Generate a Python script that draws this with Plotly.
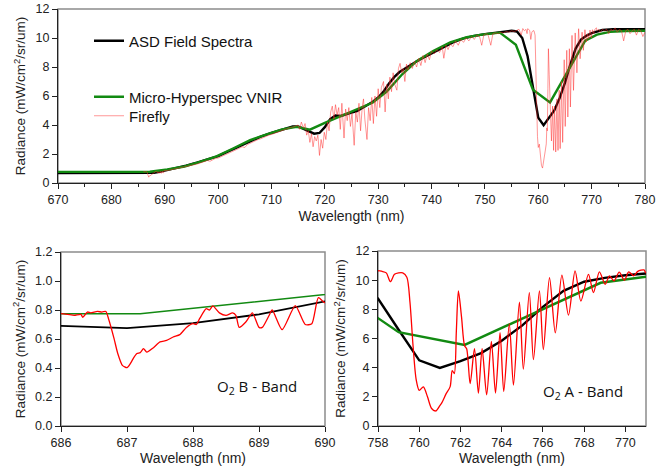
import plotly.graph_objects as go

# ---------------- data ----------------
asd_wl = [670, 686, 687, 688, 689, 690, 692, 694, 696, 698, 700, 702, 704, 706, 708,
          710, 712, 714, 715, 716, 717, 718, 719, 720, 721, 722, 723, 724, 725, 726,
          727, 728, 729, 730, 731, 732, 733, 734, 735, 736, 737, 738, 739, 740, 742,
          744, 746, 748, 750, 752, 753, 754, 755, 756, 757, 758, 759, 760, 761, 762,
          763, 764, 765, 766, 767, 768, 769, 770, 771, 772, 774, 776, 778, 780]
asd_rad = [0.68, 0.69, 0.675, 0.71, 0.77, 0.85, 1.0, 1.2, 1.4, 1.62, 1.85, 2.2, 2.55, 2.9, 3.2,
           3.45, 3.7, 3.9, 3.9, 3.75, 3.55, 3.4, 3.45, 3.85, 4.4, 4.65, 4.62, 4.75, 4.85, 4.95,
           5.15, 5.35, 5.6, 5.9, 6.3, 6.85, 7.3, 7.65, 7.9, 8.1, 8.35, 8.55, 8.75, 8.95, 9.35,
           9.7, 9.97, 10.15, 10.27, 10.35, 10.4, 10.45, 10.5, 10.45, 10.0, 8.74, 6.6, 4.5, 3.98, 4.45,
           5.0, 5.85, 6.9, 8.17, 9.27, 9.89, 10.16, 10.34, 10.46, 10.55, 10.6, 10.6, 10.6, 10.6]

mhs_wl = [670, 687.2, 690.5, 693.7, 696.6, 699.7, 702.8, 706.0, 709.1, 712.0, 714.7, 717.2,
          720.0, 723.0, 726.0, 729.0, 731.6, 734.5, 737.2, 740.3, 743.5, 746.6, 749.7, 752.8,
          755.8, 759.0, 762.2, 768.8, 771.0, 773.4, 776.5, 780]
mhs_rad = [0.77, 0.775, 0.93, 1.14, 1.46, 1.84, 2.38, 2.95, 3.36, 3.7, 3.88, 3.68,
           4.15, 4.62, 5.05, 5.55, 6.3, 7.5, 8.4, 9.1, 9.7, 10.05, 10.25, 10.37,
           9.53, 6.43, 5.56, 9.82, 10.23, 10.42, 10.48, 10.5]

firefly_wl = [686.0, 686.1, 686.2, 686.3, 686.33, 686.4, 686.45, 686.55, 686.62, 686.68,
              686.72, 686.8, 686.86, 686.93, 687.0, 687.05, 687.1, 687.15, 687.2, 687.25,
              687.3, 687.4, 687.5, 687.6, 687.7, 687.8, 687.9, 688.0, 688.05, 688.1,
              688.2, 688.25, 688.3, 688.4, 688.5, 688.6, 688.65, 688.7, 688.8, 688.9,
              689.0, 689.05, 689.15, 689.2, 689.35, 689.55, 689.7, 689.8, 689.9, 690.0,
              690.5, 691.0, 691.5, 692.0, 692.5, 693.0, 693.5, 694.0, 694.5, 695.0,
              695.5, 696.0, 696.5, 697.0, 697.5, 698.0, 698.5, 699.0, 699.5, 700.0,
              700.5, 701.0, 701.5, 702.0, 702.5, 703.0, 703.5, 704.0, 704.5, 705.0,
              705.5, 706.0, 706.5, 707.0, 707.5, 708.0, 708.5, 709.0, 709.5, 710.0,
              710.5, 711.0, 711.5, 712.0, 712.5, 713.0, 713.5, 714.0, 714.5, 715.0,
              715.3, 715.6, 716.0, 716.3, 716.6, 716.9, 717.2, 717.5, 717.8, 718.1,
              718.4, 718.7, 719.0, 719.3, 719.6, 719.9, 720.2, 720.5, 720.8, 721.1,
              721.4, 721.7, 722.0, 722.3, 722.6, 722.9, 723.2, 723.6, 723.9, 724.2,
              724.5, 724.8, 725.1, 725.5, 725.8, 726.1, 726.4, 726.7, 727.0, 727.25,
              727.5, 727.9, 728.2, 728.5, 728.8, 729.1, 729.4, 729.7, 730.0, 730.3,
              730.6, 731.0, 731.3, 731.6, 731.9, 732.2, 732.5, 732.8, 733.1, 733.5,
              733.8, 734.1, 734.4, 734.7, 735.0, 735.3, 735.6, 736.0, 736.4, 736.8,
              737.2, 737.6, 738.0, 738.4, 738.8, 739.2, 739.6, 740.0, 740.5, 741.0,
              741.5, 742.0, 742.3, 742.7, 743.1, 743.5, 744.0, 744.5, 745.0, 745.5,
              746.0, 746.5, 747.0, 747.5, 748.0, 748.5, 749.0, 749.4, 749.8, 750.2,
              750.6, 751.1, 751.5, 752.0, 752.5, 753.0, 753.5, 754.0, 754.5, 755.0,
              755.5, 756.0, 756.4, 756.8, 757.1, 757.4, 757.7, 757.9,
              758.0, 758.2, 758.4, 758.6, 758.8, 759.0, 759.2, 759.4, 759.55, 759.7,
              759.85, 760.0, 760.2, 760.4, 760.6, 760.8, 761.0, 761.1, 761.3, 761.5,
              761.6, 761.7, 761.8, 761.9, 762.05, 762.2, 762.3, 762.47, 762.68, 762.87,
              763.05, 763.27, 763.5, 763.7, 763.92, 764.1, 764.37, 764.57, 764.86, 765.05,
              765.34, 765.54, 765.83, 766.02, 766.32, 766.6, 766.92, 767.24, 767.56, 767.84,
              768.21, 768.45, 768.74, 769.02, 769.23, 769.45, 769.7, 769.95, 770.16, 770.4,
              770.6, 770.9, 771.0, 771.3, 771.6, 772.0, 772.4, 772.8, 773.2, 773.6,
              774.0, 774.4, 774.8, 775.2, 775.6, 776.0, 776.4, 776.8, 777.2, 777.6,
              778.0, 778.4, 778.8, 779.2, 779.6, 780.0]
firefly_rad = [0.775, 0.77, 0.763, 0.77, 0.75, 0.786, 0.78, 0.79, 0.786, 0.79,
               0.74, 0.61, 0.5, 0.418, 0.402, 0.43, 0.47, 0.5, 0.506, 0.533,
               0.51, 0.54, 0.58, 0.59, 0.614, 0.63, 0.68, 0.706, 0.70, 0.74,
               0.809, 0.80, 0.828, 0.78, 0.763, 0.78, 0.763, 0.68, 0.717, 0.78,
               0.68, 0.68, 0.76, 0.80, 0.664, 0.83, 0.70, 0.705, 0.885, 0.85,
               0.86, 0.9, 0.92, 0.95, 0.98, 1.05, 1.08, 1.12, 1.18, 1.2,
               1.26, 1.3, 1.36, 1.42, 1.5, 1.55, 1.5, 1.62, 1.7, 1.72,
               1.8, 1.88, 1.95, 2.05, 2.12, 2.2, 2.32, 2.4, 2.5, 2.45,
               2.65, 2.75, 2.82, 2.9, 3.0, 3.05, 3.15, 3.2, 3.3, 3.35,
               3.42, 3.5, 3.55, 3.62, 3.7, 3.75, 3.82, 3.85, 3.9, 4.0,
               3.7, 4.2, 3.8, 4.1, 3.3, 3.6, 2.8, 3.4, 2.5, 3.2,
               2.9, 3.3, 1.9, 3.0, 2.4, 3.5, 3.0, 4.2, 3.6, 4.9,
               5.3, 4.4, 5.4, 4.7, 5.2, 3.7, 5.5, 3.1, 5.1, 4.3,
               5.2, 3.9, 4.8, 2.6, 4.9, 4.2, 5.5, 3.6, 5.2, 5.8,
               4.4, 3.0, 5.2, 4.3, 5.9, 4.1, 6.0, 4.6, 6.5, 5.2,
               6.6, 7.0, 4.9, 6.8, 5.8, 7.3, 6.3, 7.6, 6.8, 6.4,
               7.9, 8.25, 7.6, 7.9, 7.0, 8.2, 7.8, 8.3, 7.9, 8.4,
               8.0, 8.6, 8.1, 8.8, 8.3, 8.9, 8.5, 9.1, 8.9, 9.2,
               9.0, 9.4, 8.6, 9.5, 9.2, 9.6, 9.4, 9.8, 9.5, 9.9,
               9.7, 10.0, 9.8, 10.1, 9.9, 10.2, 10.1, 9.5, 10.2, 10.3,
               10.2, 9.5, 10.3, 10.35, 10.3, 10.4, 10.35, 10.45, 10.4, 10.5,
               10.45, 10.55, 10.6, 10.2, 10.65, 10.5, 10.6, 10.3,
               10.64, 10.6, 10.5, 9.9, 10.4, 10.5, 10.5, 10.2, 8.5, 5.5,
               3.2, 2.45, 2.68, 2.0, 1.2, 1.03, 1.4, 1.6, 2.2, 2.7,
               3.8, 3.6, 6.5, 9.26, 7.5, 5.5, 5.3, 2.9, 5.3, 2.25,
               5.3, 2.14, 5.8, 2.25, 6.4, 2.37, 7.0, 2.8, 8.5, 3.9,
               9.15, 4.55, 9.26, 5.24, 10.18, 6.39, 10.35, 7.6, 10.64, 8.57,
               10.4, 9.15, 10.57, 9.72, 10.3, 9.95, 10.55, 10.0, 10.57, 10.3,
               10.6, 10.7, 10.5, 10.6, 10.4, 10.6, 10.5, 10.6, 10.3, 10.6,
               10.5, 10.7, 10.4, 10.6, 10.5, 9.8, 10.5, 10.6, 10.3, 10.5,
               10.6, 10.2, 10.6, 10.5, 10.1, 10.4]

series_names = ["ASD Field Spectra", "Micro-Hyperspec VNIR", "Firefly"]
y_title = "Radiance (mW/cm<sup>2</sup>/sr/um)"
x_title = "Wavelength (nm)"
band_labels = ["O<sub>2</sub> B - Band", "O<sub>2</sub> A - Band"]

BLACK = "#000000"
GREEN = "#128a12"
RED = "#ff0000"
FONT = "Liberation Sans, Arial, sans-serif"

fig = go.Figure()

# ---- top panel (each series has its own legend box so the spacing matches) ----
fig.add_trace(go.Scatter(x=asd_wl, y=asd_rad, mode="lines", name=series_names[0],
                         line=dict(color=BLACK, width=2.4), legend="legend",
                         xaxis="x", yaxis="y"))
fig.add_trace(go.Scatter(x=mhs_wl, y=mhs_rad, mode="lines", name=series_names[1],
                         line=dict(color=GREEN, width=2.4), legend="legend2",
                         xaxis="x", yaxis="y"))
fig.add_trace(go.Scatter(x=firefly_wl, y=firefly_rad, mode="lines", name=series_names[2],
                         line=dict(color="rgba(255,40,40,0.55)", width=0.9), legend="legend3",
                         xaxis="x", yaxis="y"))

# ---- bottom-left (O2 B band) ----
fig.add_trace(go.Scatter(x=asd_wl, y=asd_rad, mode="lines", showlegend=False,
                         line=dict(color=BLACK, width=1.8), xaxis="x2", yaxis="y2"))
fig.add_trace(go.Scatter(x=mhs_wl, y=mhs_rad, mode="lines", showlegend=False,
                         line=dict(color=GREEN, width=1.5), xaxis="x2", yaxis="y2"))
fig.add_trace(go.Scatter(x=firefly_wl, y=firefly_rad, mode="lines", showlegend=False,
                         line=dict(color=RED, width=1.3, shape="spline", smoothing=0.6),
                         xaxis="x2", yaxis="y2"))

# ---- bottom-right (O2 A band) ----
fig.add_trace(go.Scatter(x=asd_wl, y=asd_rad, mode="lines", showlegend=False,
                         line=dict(color=BLACK, width=2.4), xaxis="x3", yaxis="y3"))
fig.add_trace(go.Scatter(x=mhs_wl, y=mhs_rad, mode="lines", showlegend=False,
                         line=dict(color=GREEN, width=2.4), xaxis="x3", yaxis="y3"))
fig.add_trace(go.Scatter(x=firefly_wl, y=firefly_rad, mode="lines", showlegend=False,
                         line=dict(color=RED, width=1.3, shape="spline", smoothing=0.8),
                         xaxis="x3", yaxis="y3"))

W, H = 665, 471

def axis_common(is_x):
    return dict(showgrid=False, zeroline=False, showline=True, linecolor="#222",
                linewidth=1, ticks="outside", ticklen=5, tickcolor="#222", automargin=False,
                tickfont=dict(family=FONT, size=12.5, color="#222"),
                title_font=dict(family=FONT, size=14 if is_x else 13.5, color="#222"))

xa = axis_common(True)
xa.update(domain=[58 / W, 645 / W], range=[670, 780], dtick=10, tick0=670, anchor="y",
          title=dict(text=x_title, standoff=5),
          minor=dict(dtick=5, ticks="outside", ticklen=3, tickcolor="#222"))
ya = axis_common(False)
ya.update(domain=[1 - 183 / H, 1 - 9 / H], range=[0, 12], dtick=2, anchor="x",
          title=dict(text=y_title, standoff=6))

xa2 = axis_common(True)
xa2.update(domain=[61 / W, 325 / W], range=[686, 690], dtick=1, anchor="y2",
           title=dict(text=x_title, standoff=3))
ya2 = axis_common(False)
ya2.update(domain=[1 - 426 / H, 1 - 252 / H], range=[0, 1.2], dtick=0.2, tickformat=".1f",
           anchor="x2", title=dict(text=y_title, standoff=6))

xa3 = axis_common(True)
xa3.update(domain=[378 / W, 646 / W], range=[758, 771], dtick=2, tick0=758, anchor="y3",
           title=dict(text=x_title, standoff=3))
ya3 = axis_common(False)
ya3.update(domain=[1 - 426 / H, 1 - 251 / H], range=[0, 12], dtick=2, anchor="x3",
           title=dict(text=y_title, standoff=6))

frames = []
for xr, yr in [("x", "y"), ("x2", "y2"), ("x3", "y3")]:
    frames.append(dict(type="rect", xref=xr + " domain", yref=yr + " domain",
                       x0=0, x1=1, y0=0, y1=1, layer="below",
                       line=dict(color="#8c8c8c", width=1.5)))

def legend_box(center_px):
    return dict(x=89 / W, y=1 - center_px / H, xanchor="left", yanchor="middle",
                bgcolor="rgba(0,0,0,0)", itemwidth=30,
                font=dict(family=FONT, size=15, color="#111"))

fig.update_layout(
    width=W, height=H,
    margin=dict(l=0, r=0, t=0, b=0),
    paper_bgcolor="white", plot_bgcolor="white",
    xaxis=xa, yaxis=ya, xaxis2=xa2, yaxis2=ya2, xaxis3=xa3, yaxis3=ya3,
    shapes=frames,
    showlegend=True,
    legend=legend_box(41),
    legend2=legend_box(97),
    legend3=legend_box(116),
    annotations=[
        dict(text=band_labels[0], xref="x2", yref="y2", x=688.97, y=0.27,
             showarrow=False, font=dict(family="Open Sans, sans-serif", size=15, color="#111")),
        dict(text=band_labels[1], xref="x3", yref="y3", x=767.95, y=2.3,
             showarrow=False, font=dict(family="Open Sans, sans-serif", size=15, color="#111")),
    ],
)

fig.write_html("out.html", config={"displayModeBar": False},
               post_script="document.body.style.margin='0px';document.body.style.padding='0px';")
